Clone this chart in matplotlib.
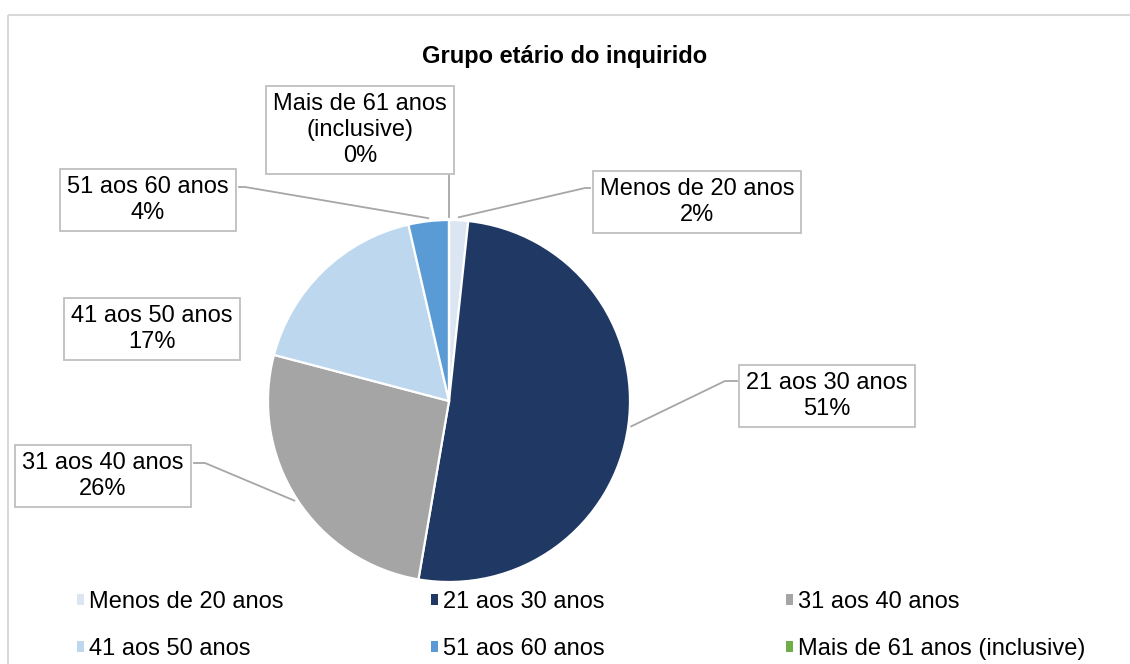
import matplotlib.pyplot as plt
import numpy as np

plt.rcParams['font.family'] = ['Liberation Sans', 'DejaVu Sans']

# data
categories = ['Menos de 20 anos', '21 aos 30 anos', '31 aos 40 anos',
              '41 aos 50 anos', '51 aos 60 anos', 'Mais de 61 anos (inclusive)']
label_text = ['Menos de 20 anos', '21 aos 30 anos', '31 aos 40 anos',
              '41 aos 50 anos', '51 aos 60 anos', 'Mais de 61 anos\n(inclusive)']
shares = [1.7, 51.0, 26.4, 17.3, 3.6, 0.0]
colors = ['#dce6f2', '#1f3864', '#a5a5a5', '#bdd7ee', '#5b9bd5', '#70ad47']

fig = plt.figure(figsize=(11.3, 6.64), dpi=100)
ax = fig.add_axes([0, 0, 1, 1])

# pixel-like coordinates, y grows downward
cx, cy, R = 449, 401, 181
wedges, _ = ax.pie(shares, colors=colors, center=(cx, cy), radius=R,
                   startangle=-90, counterclock=True,
                   wedgeprops=dict(edgecolor='white', linewidth=1.6))
ax.set_xlim(0, 1130)
ax.set_ylim(664, 0)
ax.set_aspect('auto')
ax.axis('off')

# outer chart frame (only top & left visible)
ax.plot([8, 1130], [15, 15], color='#d9d9d9', lw=1.5, solid_capstyle='butt')
ax.plot([8, 8], [15, 664], color='#d9d9d9', lw=1.5, solid_capstyle='butt')

ax.text(565, 56, 'Grupo etário do inquirido', ha='center', va='center',
        fontsize=17, fontweight='bold')

# label boxes: centre, elbow, box edge (None = no leader)
label_pos = [(697, 202), (827, 396), (103, 476), (152, 329), (148, 200), (360, 130)]
elbows = [(585, 188), (725, 381), (205, 463), None, (245, 187), None]
box_edge = [(590, 188), (737, 381), (194, 463), None, (239, 187), None]

for i, w in enumerate(wedges):
    pct = '%d%%' % round(shares[i])
    ax.text(label_pos[i][0], label_pos[i][1], label_text[i] + '\n' + pct,
            ha='center', va='center', fontsize=17, linespacing=1.25,
            bbox=dict(boxstyle='square,pad=0.3', fc='white', ec='#bfbfbf', lw=1.3),
            zorder=5)
    ang = np.deg2rad((w.theta1 + w.theta2) / 2)
    sx = cx + (R + 3) * np.cos(ang)
    sy = cy + (R + 3) * np.sin(ang)
    if i == 5:
        ax.plot([sx, sx], [sy, 175], color='#a6a6a6', lw=1.3, zorder=1)
    elif elbows[i] is not None:
        ax.plot([sx, elbows[i][0], box_edge[i][0]], [sy, elbows[i][1], box_edge[i][1]],
                color='#a6a6a6', lw=1.3, zorder=1)

# legend: three columns of two entries
col_x = [0.0685, 0.3815, 0.6955]
for c in range(3):
    idx = [c, c + 3]
    leg = fig.legend([wedges[k] for k in idx], [categories[k] for k in idx],
                     loc='upper left', bbox_to_anchor=(col_x[c], 1 - 591 / 664),
                     frameon=False, fontsize=17, handlelength=0.3, handleheight=0.3,
                     handletextpad=0.2, labelspacing=1.06, borderpad=0, borderaxespad=0)
    for h in leg.legend_handles:
        h.set_edgecolor('none')

fig.savefig('out.png', dpi=100)
